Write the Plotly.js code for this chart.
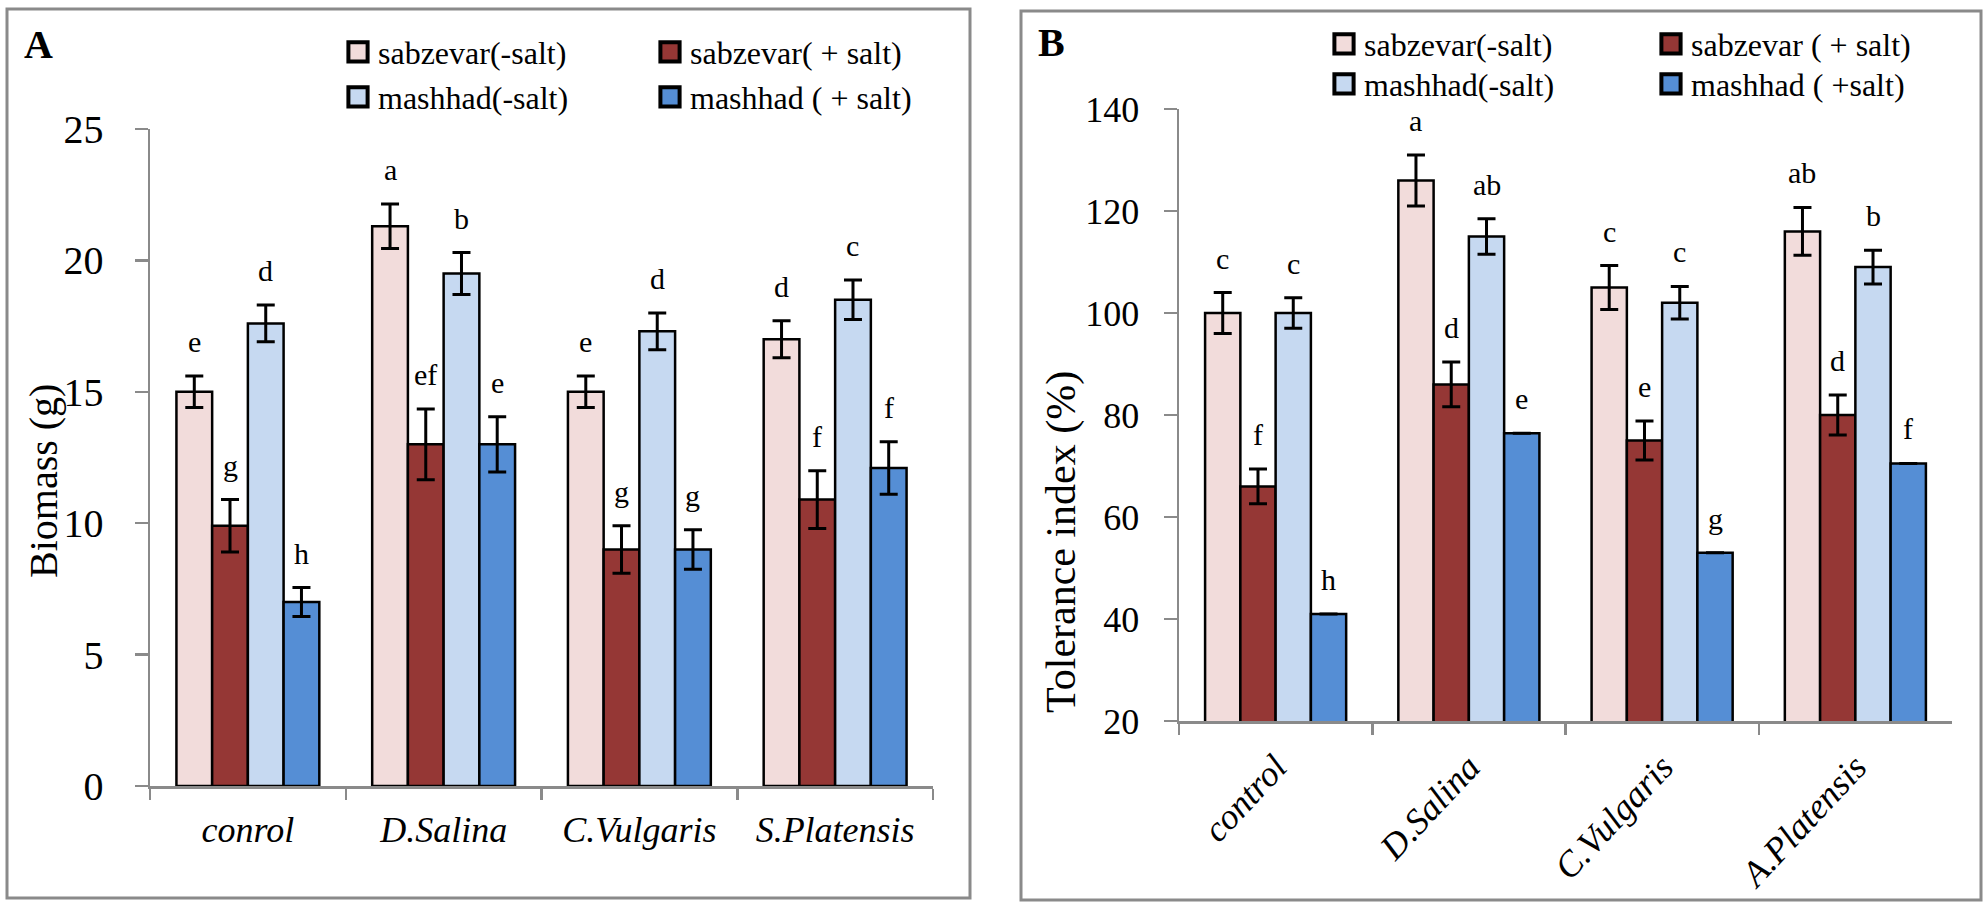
<!DOCTYPE html>
<html><head><meta charset="utf-8">
<script src="https://cdn.plot.ly/plotly-3.0.1.min.js"></script>
<style>html,body{margin:0;padding:0;background:#fff}</style>
</head><body><div id="chart" style="width:1985px;height:908px"></div>
<script>
// ---------- data ----------
const categoriesA = ['conrol', 'D.Salina', 'C.Vulgaris', 'S.Platensis'];
const categoriesB = ['control', 'D.Salina', 'C.Vulgaris', 'A.Platensis'];
const namesA = ['sabzevar(-salt)', 'sabzevar( + salt)', 'mashhad(-salt)', 'mashhad ( + salt)'];
const namesB = ['sabzevar(-salt)', 'sabzevar ( + salt)', 'mashhad(-salt)', 'mashhad ( +salt)'];

const biomassSabzevarMinus = [15.0, 21.3, 15.0, 17.0];
const biomassSabzevarPlus  = [9.9, 13.0, 9.0, 10.9];
const biomassMashhadMinus  = [17.6, 19.5, 17.3, 18.5];
const biomassMashhadPlus   = [7.0, 13.0, 9.0, 12.1];
const biomassErrSabzevarMinus = [0.6, 0.85, 0.6, 0.7];
const biomassErrSabzevarPlus  = [1.0, 1.35, 0.9, 1.1];
const biomassErrMashhadMinus  = [0.7, 0.8, 0.7, 0.75];
const biomassErrMashhadPlus   = [0.55, 1.05, 0.75, 1.0];
const biomassLetSabzevarMinus = ['e', 'a', 'e', 'd'];
const biomassLetSabzevarPlus  = ['g', 'ef', 'g', 'f'];
const biomassLetMashhadMinus  = ['d', 'b', 'd', 'c'];
const biomassLetMashhadPlus   = ['h', 'e', 'g', 'f'];

const toleranceSabzevarMinus = [100, 126, 105, 116];
const toleranceSabzevarPlus  = [66, 86, 75, 80];
const toleranceMashhadMinus  = [100, 115, 102, 109];
const toleranceMashhadPlus   = [41, 76.4, 53, 70.5];
const toleranceErrSabzevarMinus = [4, 5, 4.3, 4.7];
const toleranceErrSabzevarPlus  = [3.4, 4.4, 3.8, 3.9];
const toleranceErrMashhadMinus  = [3, 3.5, 3.2, 3.3];
const toleranceErrMashhadPlus   = [0, 0, 0, 0];
const toleranceLetSabzevarMinus = ['c', 'a', 'c', 'ab'];
const toleranceLetSabzevarPlus  = ['f', 'd', 'e', 'd'];
const toleranceLetMashhadMinus  = ['c', 'ab', 'c', 'b'];
const toleranceLetMashhadPlus   = ['h', 'e', 'g', 'f'];

// ---------- style / layout ----------
const colors = ['#f2dcdb', '#953735', '#c6d9f1', '#558ed5'];
const FONT = 'Liberation Serif';
const W = 1985, H = 908;
const BARGAP = 0.27;
const px = v => v / W;
const py = v => 1 - v / H;
const axA = {x0: 150, x1: 933, y0: 786, y1: 129};
const axB = {x0: 1179, x1: 1952, y0: 721, y1: 109};
const grey = '#8a8a8a';

const seriesA = [
  [biomassSabzevarMinus, biomassErrSabzevarMinus, biomassLetSabzevarMinus],
  [biomassSabzevarPlus, biomassErrSabzevarPlus, biomassLetSabzevarPlus],
  [biomassMashhadMinus, biomassErrMashhadMinus, biomassLetMashhadMinus],
  [biomassMashhadPlus, biomassErrMashhadPlus, biomassLetMashhadPlus]
];
const seriesB = [
  [toleranceSabzevarMinus, toleranceErrSabzevarMinus, toleranceLetSabzevarMinus],
  [toleranceSabzevarPlus, toleranceErrSabzevarPlus, toleranceLetSabzevarPlus],
  [toleranceMashhadMinus, toleranceErrMashhadMinus, toleranceLetMashhadMinus],
  [toleranceMashhadPlus, toleranceErrMashhadPlus, toleranceLetMashhadPlus]
];

const traces = [];
const annotations = [];
function addPanel(series, cats, names, xa, ya, legends, ax) {
  const catPx = (ax.x1 - ax.x0) / cats.length;
  const barPx = catPx * (1 - BARGAP) / series.length;
  series.forEach((s, k) => {
    traces.push({
      type: 'bar', x: cats, y: s[0], name: names[k],
      xaxis: xa, yaxis: ya, legend: legends[k < 2 ? 0 : 1],
      marker: {color: colors[k], line: {color: '#000', width: 2.5}},
      error_y: {type: 'data', array: s[1], visible: true, color: '#000', thickness: 3, width: 9},
      hoverinfo: 'skip'
    });
    cats.forEach((c, i) => {
      annotations.push({
        xref: xa, yref: ya, x: c, y: s[0][i] + s[1][i],
        xshift: (k - (series.length - 1) / 2) * barPx, yshift: 16,
        xanchor: 'center', yanchor: 'bottom', showarrow: false, text: s[2][i],
        font: {family: FONT, size: 30, color: '#000'}
      });
    });
  });
}
addPanel(seriesA, categoriesA, namesA, 'x', 'y', ['legend', 'legend2'], axA);
addPanel(seriesB, categoriesB, namesB, 'x2', 'y2', ['legend3', 'legend4'], axB);

annotations.push(
  {xref: 'paper', yref: 'paper', x: px(22), y: py(20), xanchor: 'left', yanchor: 'top', showarrow: false,
   text: '<b>A</b>', font: {family: FONT, size: 40, color: '#000'}},
  {xref: 'paper', yref: 'paper', x: px(1036), y: py(18), xanchor: 'left', yanchor: 'top', showarrow: false,
   text: '<b>B</b>', font: {family: FONT, size: 40, color: '#000'}},
  {xref: 'paper', yref: 'paper', x: px(44), y: py(481), xanchor: 'center', yanchor: 'middle', textangle: -90,
   showarrow: false, text: 'Biomass (g)', font: {family: FONT, size: 40, color: '#000'}},
  {xref: 'paper', yref: 'paper', x: px(1061), y: py(542), xanchor: 'center', yanchor: 'middle', textangle: -90,
   showarrow: false, text: 'Tolerance index (%)', font: {family: FONT, size: 42, color: '#000'}}
);

function xaxisCfg(ax, angle, font, anchor) {
  return {
    domain: [px(ax.x0), px(ax.x1)], type: 'category', anchor: anchor,
    showline: true, linecolor: grey, linewidth: 2.5, mirror: false,
    ticks: 'outside', tickson: 'boundaries', ticklen: 11, tickwidth: 2.5, tickcolor: grey,
    tickangle: angle, ticklabelstandoff: angle === 0 ? 10 : 8,
    tickfont: {family: FONT, size: font, color: '#000', style: 'italic'},
    showgrid: false, zeroline: false, fixedrange: true
  };
}
function yaxisCfg(ax, range, dtick, font, standoff, anchor) {
  return {
    domain: [py(ax.y0), py(ax.y1)], range: range, dtick: dtick, anchor: anchor,
    showline: true, linecolor: grey, linewidth: 2.5,
    ticks: 'outside', ticklen: 13, tickwidth: 2.5, tickcolor: grey, ticklabelstandoff: standoff,
    tickfont: {family: FONT, size: font, color: '#000'},
    showgrid: false, zeroline: false, fixedrange: true
  };
}
function legendCfg(x, y, ew) {
  return {
    orientation: 'h', x: px(x), y: py(y), xanchor: 'left', yanchor: 'middle',
    entrywidth: ew, entrywidthmode: 'pixels', bgcolor: 'rgba(0,0,0,0)', borderwidth: 0,
    font: {family: FONT, size: 32, color: '#000'}, itemclick: false, itemdoubleclick: false
  };
}

const shapes = [
  {type: 'rect', xref: 'paper', yref: 'paper', x0: px(7), x1: px(970), y0: py(9), y1: py(898),
   line: {color: grey, width: 3}, fillcolor: 'rgba(0,0,0,0)'},
  {type: 'rect', xref: 'paper', yref: 'paper', x0: px(1021), x1: px(1981), y0: py(11), y1: py(900),
   line: {color: grey, width: 3}, fillcolor: 'rgba(0,0,0,0)'}
];

const layout = {
  width: W, height: H, margin: {l: 0, r: 0, t: 0, b: 0},
  font: {family: FONT, color: '#000'},
  paper_bgcolor: '#fff', plot_bgcolor: 'rgba(0,0,0,0)',
  barmode: 'group', bargap: BARGAP, bargroupgap: 0,
  xaxis: xaxisCfg(axA, 0, 36, 'y'),
  yaxis: yaxisCfg(axA, [0, 25], 5, 40, 23, 'x'),
  xaxis2: xaxisCfg(axB, -47, 36, 'y2'),
  yaxis2: yaxisCfg(axB, [20, 140], 20, 36, 17, 'x2'),
  legend: legendCfg(338, 52, 267),
  legend2: legendCfg(338, 97, 267),
  legend3: legendCfg(1324, 44, 282),
  legend4: legendCfg(1324, 84, 282),
  annotations: annotations, shapes: shapes, showlegend: true
};

Plotly.newPlot('chart', traces, layout, {staticPlot: true, displayModeBar: false}).then(() => {
  document.querySelectorAll('.legendpoints path').forEach(p => {
    const t = p.getAttribute('transform') || '';
    p.setAttribute('transform', t + ' scale(1.6)');
  });
  document.querySelectorAll('.legendtext').forEach(t => {
    t.style.fontFamily = "'Liberation Serif', serif";
  });
});
</script>
</body></html>
